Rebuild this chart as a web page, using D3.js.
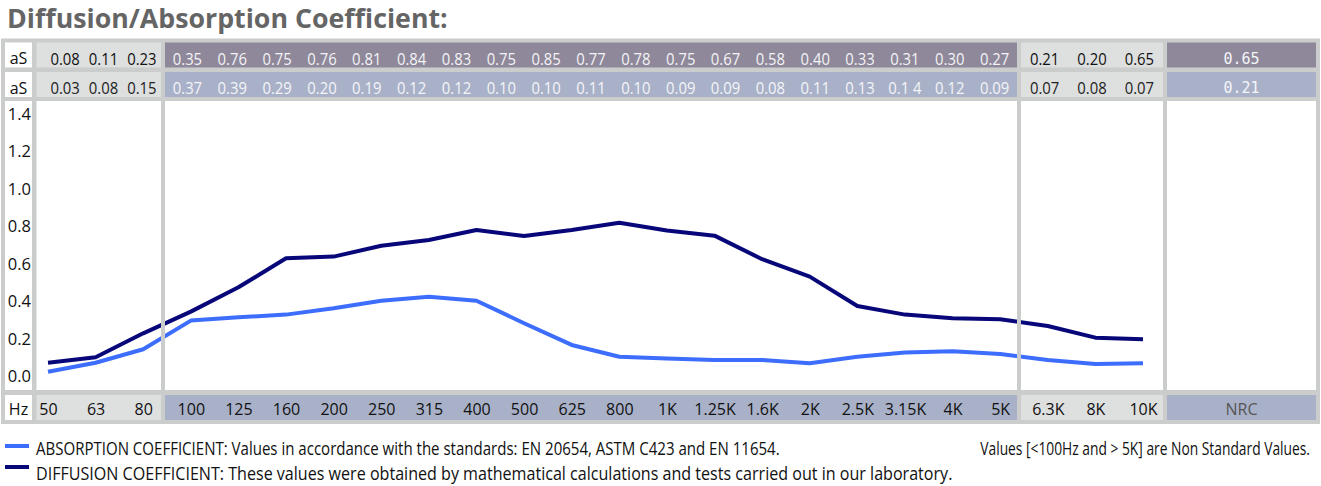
<!DOCTYPE html>
<html>
<head>
<meta charset="utf-8">
<script src="https://cdn.jsdelivr.net/npm/d3@7"></script>
<style>
  body { margin: 0; background: #ffffff; }
  text { font-family: "Open Sans", "Noto Sans", sans-serif; }
</style>
</head>
<body>
<script>
// ---------------- DATA ----------------
const freqLabels = ["50","63","80","100","125","160","200","250","315","400","500","625","800",
  "1K","1.25K","1.6K","2K","2.5K","3.15K","4K","5K","6.3K","8K","10K"];

// Plotted curves
const diffusionLine = [0.071,0.100,0.228,0.344,0.474,0.629,0.638,0.696,0.727,0.780,0.748,0.780,0.819,
  0.777,0.750,0.624,0.531,0.374,0.328,0.308,0.303,0.267,0.205,0.196];
const absorptionLine = [0.023,0.071,0.143,0.296,0.314,0.328,0.362,0.402,0.424,0.402,0.282,0.166,0.103,
  0.094,0.086,0.086,0.068,0.103,0.125,0.132,0.118,0.086,0.064,0.068];

// Table values (as printed)
const diffLow = ["0.08","0.11","0.23"];
const diffStd = ["0.35","0.76","0.75","0.76","0.81","0.84","0.83","0.75","0.85","0.77","0.78","0.75",
  "0.67","0.58","0.40","0.33","0.31","0.30","0.27"];
const diffHigh = ["0.21","0.20","0.65"];
const diffNRC = "0.65";
const absLow = ["0.03","0.08","0.15"];
const absStd = ["0.37","0.39","0.29","0.20","0.19","0.12","0.12","0.10","0.10","0.11","0.10","0.09",
  "0.09","0.08","0.11","0.13","0.1 4","0.12","0.09"];
const absHigh = ["0.07","0.08","0.07"];
const absNRC = "0.21";

const yTicks = [0, 0.2, 0.4, 0.6, 0.8, 1.0, 1.2, 1.4];
const rowLabel = "aS";
const hzLabel = "Hz";
const nrcLabel = "NRC";

const titleText = "Diffusion/Absorption Coefficient:";
const legendAbs = "ABSORPTION COEFFICIENT: Values in accordance with the standards: EN 20654, ASTM C423 and EN 11654.";
const legendDiff = "DIFFUSION COEFFICIENT: These values were obtained by mathematical calculations and tests carried out in our laboratory.";
const noteText = "Values [<100Hz and > 5K] are Non Standard Values.";

// ---------------- LAYOUT ----------------
const W = 1321, H = 486;
const colors = {
  frame: "#cbcccc", lightCell: "#dedfdf", purple: "#8e889a", blueGray: "#a9b1c8",
  diff: "#07077a", abs: "#3d6dfc", title: "#656565"
};
const cols = { label:[5,32], low:[36.5,161], std:[165,1017], high:[1021,1163], nrc:[1167,1316] };
const rows = { r1:[42.5,67.5], r2:[72,97], chart:[101,390], hz:[395,420] };

const svg = d3.select("body").append("svg").attr("width", W).attr("height", H);

// Text squeezed horizontally to a target width (keeps the glyph height)
function fitText(str, xPos, yPos, width, size, anchor, opts = {}) {
  const t = svg.append("text").attr("font-size", size).attr("fill", opts.fill || "#111")
    .attr("font-weight", opts.weight || 400).attr("text-anchor", anchor).text(str);
  const natural = t.node().getComputedTextLength();
  const s = Math.min(1, width / natural);
  t.attr("transform", `translate(${xPos},${yPos}) scale(${s},1)`);
  return t;
}

// Title
fitText(titleText, 7, 28, 441, 27, "start", { weight: 700, fill: colors.title });

// Frame
svg.append("rect").attr("x", 1).attr("y", 38.5).attr("width", 1319).attr("height", 385.5)
  .attr("fill", colors.frame);

function cell(c, r, fill) {
  svg.append("rect").attr("x", cols[c][0]).attr("y", rows[r][0])
    .attr("width", cols[c][1] - cols[c][0]).attr("height", rows[r][1] - rows[r][0])
    .attr("fill", fill);
}
cell("label","r1","#fff"); cell("low","r1",colors.lightCell); cell("std","r1",colors.purple);
cell("high","r1",colors.lightCell); cell("nrc","r1",colors.purple);
cell("label","r2","#fff"); cell("low","r2",colors.lightCell); cell("std","r2",colors.blueGray);
cell("high","r2",colors.lightCell); cell("nrc","r2",colors.blueGray);
cell("label","chart","#fff");
svg.append("rect").attr("x", cols.low[0]).attr("y", rows.chart[0])
  .attr("width", cols.nrc[1] - cols.low[0]).attr("height", rows.chart[1] - rows.chart[0]).attr("fill", "#fff");
cell("label","hz","#fff"); cell("low","hz",colors.lightCell); cell("std","hz",colors.blueGray);
cell("high","hz",colors.lightCell); cell("nrc","hz",colors.blueGray);

// Scales
const x = d3.scalePoint().domain(freqLabels).range([48, 1143]);
const y = d3.scaleLinear().domain([0, 1.4]).range([376, 114]);
const lowBand = d3.scaleBand().domain(d3.range(3)).range([46, 161]);
const stdBand = d3.scaleBand().domain(d3.range(19)).range([cols.std[0], cols.std[1]]);
const highBand = d3.scaleBand().domain(d3.range(3)).range([cols.high[0], cols.high[1]]);

// Table row text
function rowText(values, band, baseline, fill) {
  svg.append("g").selectAll("text").data(values).join("text")
    .attr("transform", (d, i) => `translate(${band(i) + band.bandwidth() / 2},${baseline}) scale(0.9,1)`)
    .attr("text-anchor", "middle").attr("font-size", 16.5).attr("fill", fill)
    .text(d => d);
}
rowText(diffLow, lowBand, 64.5, "#111");
rowText(diffStd, stdBand, 64.5, "#f4f4f6");
rowText(diffHigh, highBand, 64.5, "#111");
rowText(absLow, lowBand, 94, "#222");
rowText(absStd, stdBand, 94, "#f4f5f8");
rowText(absHigh, highBand, 94, "#222");

const nrcCenter = (cols.nrc[0] + cols.nrc[1]) / 2;
svg.append("text").attr("x", nrcCenter).attr("y", 63.5).attr("text-anchor", "middle")
  .attr("font-size", 15).style("font-family", "'DejaVu Sans Mono', monospace").attr("fill", "#f4f4f6").text(diffNRC);
svg.append("text").attr("x", nrcCenter).attr("y", 93).attr("text-anchor", "middle")
  .attr("font-size", 15).style("font-family", "'DejaVu Sans Mono', monospace").attr("fill", "#f4f5f8").text(absNRC);

// Row labels
const labelCenter = (cols.label[0] + cols.label[1]) / 2;
[[rowLabel, 64], [rowLabel, 93.5], [hzLabel, 414.5]].forEach(([t, yy]) => {
  svg.append("text").attr("x", labelCenter).attr("y", yy).attr("text-anchor", "middle")
    .attr("font-size", 16).attr("fill", "#111").text(t);
});

// Y axis
const yAxis = svg.append("g").attr("transform", "translate(31,0)")
  .call(d3.axisLeft(y).tickValues(yTicks).tickFormat(d3.format(".1f")).tickSize(0).tickPadding(0));
yAxis.select(".domain").remove();
yAxis.selectAll("text").attr("font-size", 16.5).attr("fill", "#111")
  .style("font-family", "'Open Sans', sans-serif").attr("dy", "0.33em");

// Lines
svg.append("clipPath").attr("id", "plotclip").append("rect")
  .attr("x", cols.low[0]).attr("y", rows.chart[0])
  .attr("width", cols.nrc[1] - cols.low[0]).attr("height", rows.chart[1] - rows.chart[0]);
const line = d3.line().x((d, i) => x(freqLabels[i])).y(d => y(d));
const plot = svg.append("g").attr("clip-path", "url(#plotclip)");
plot.append("path").datum(absorptionLine).attr("d", line).attr("fill", "none")
  .attr("stroke", colors.abs).attr("stroke-width", 4).attr("stroke-linejoin", "round");
plot.append("path").datum(diffusionLine).attr("d", line).attr("fill", "none")
  .attr("stroke", colors.diff).attr("stroke-width", 4).attr("stroke-linejoin", "round");

// Separators over the plot
[[cols.low[1], cols.std[0]], [cols.std[1], cols.high[0]], [cols.high[1], cols.nrc[0]]].forEach(([a, b]) => {
  svg.append("rect").attr("x", a).attr("y", rows.chart[0]).attr("width", b - a)
    .attr("height", rows.chart[1] - rows.chart[0]).attr("fill", colors.frame);
});

// Hz axis labels
const hzAxis = svg.append("g").attr("transform", `translate(0,${rows.hz[0]})`)
  .call(d3.axisBottom(x).tickSize(0).tickPadding(0));
hzAxis.select(".domain").remove();
hzAxis.selectAll("text").attr("font-size", 16).attr("fill", "#111")
  .style("font-family", "'Open Sans', sans-serif").attr("dy", null).attr("y", 19.5);
svg.append("text").attr("x", nrcCenter).attr("y", 414.5).attr("text-anchor", "middle")
  .attr("font-size", 16).attr("fill", "#555").text(nrcLabel);

// Legend
svg.append("line").attr("x1", 5).attr("x2", 29).attr("y1", 446).attr("y2", 446)
  .attr("stroke", colors.abs).attr("stroke-width", 4);
svg.append("line").attr("x1", 5).attr("x2", 29).attr("y1", 467).attr("y2", 467)
  .attr("stroke", colors.diff).attr("stroke-width", 4);
fitText(legendAbs, 36, 455, 744, 18, "start");
fitText(legendDiff, 36, 480, 917, 18, "start");
fitText(noteText, 1310, 455, 330, 18, "end");
</script>
</body>
</html>
